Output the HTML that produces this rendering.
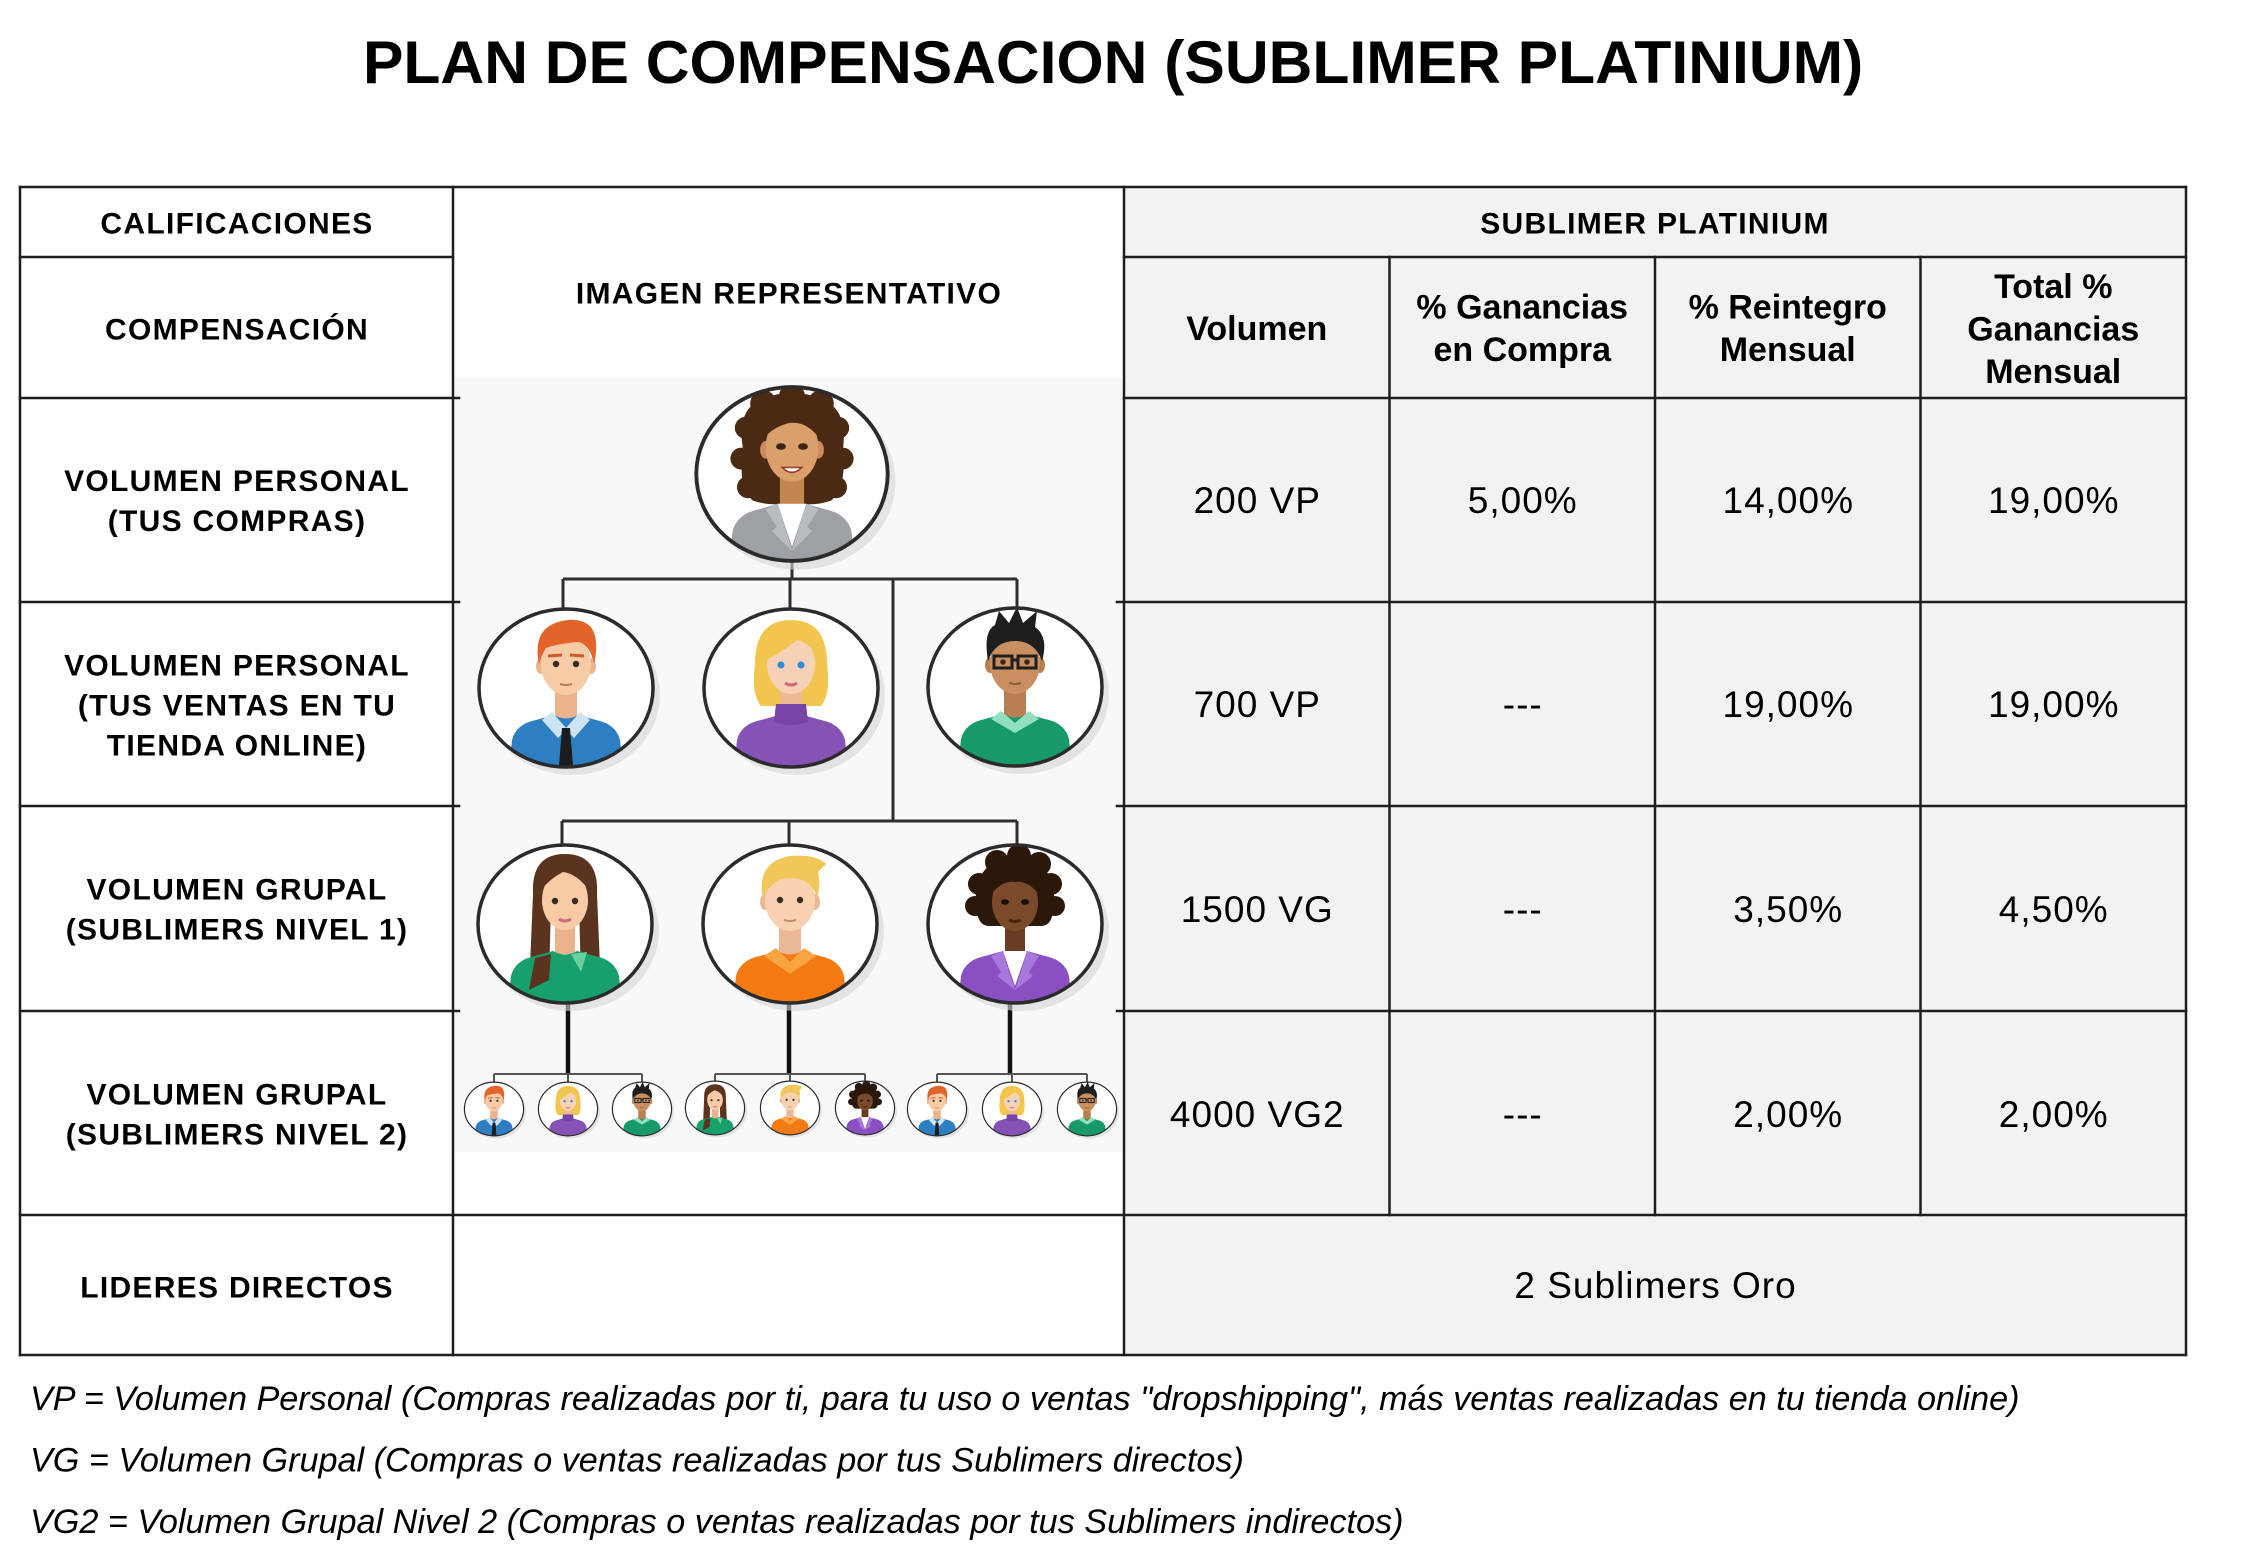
<!DOCTYPE html>
<html>
<head>
<meta charset="utf-8">
<style>
html,body{margin:0;padding:0;background:#fff;}
svg{display:block;}
.t{font-family:"Liberation Sans",Arial,sans-serif;}
.lb{font-weight:bold;font-size:30px;letter-spacing:1.3px;fill:#000;}
.hb{font-weight:bold;font-size:34px;fill:#000;}
.dv{font-size:37px;letter-spacing:1px;fill:#000;}
.ft{font-style:italic;font-size:34.2px;fill:#000;}
</style>
</head>
<body>
<svg width="2245" height="1551" viewBox="0 0 2245 1551" xmlns="http://www.w3.org/2000/svg">
<defs>
  <clipPath id="cp"><ellipse cx="0" cy="0" rx="86" ry="78"/></clipPath>

  <g id="w1">
    <ellipse cx="6" cy="7" rx="88" ry="80" fill="#d6d6d6" opacity=".6"/>
    <ellipse rx="87" ry="79" fill="#fff"/>
    <g clip-path="url(#cp)">
      <g fill="#4b2a14">
        <path d="M-44 -20 Q-52 -60 -26 -68 Q0 -80 26 -68 Q52 -60 46 -20 Q50 10 36 24 Q20 30 0 26 Q-20 30 -36 24 Q-50 10 -44 -20 Z"/>
        <circle cx="-42" cy="-42" r="10"/><circle cx="-46" cy="-14" r="10"/><circle cx="-40" cy="12" r="10"/>
        <circle cx="42" cy="-42" r="10"/><circle cx="46" cy="-14" r="10"/><circle cx="40" cy="12" r="10"/>
        <circle cx="-26" cy="-64" r="12"/><circle cx="0" cy="-70" r="12"/><circle cx="26" cy="-64" r="12"/>
      </g>
      <rect x="-11" y="-4" width="22" height="36" fill="#c4864f"/>
      <path d="M-58 90 L-54 52 Q-50 36 -30 32 L-12 27 Q0 34 12 27 L30 32 Q50 36 54 52 L58 90 Z" fill="#9da0a5"/>
      <path d="M-13 27 L0 66 L13 27 Z" fill="#fff"/>
      <path d="M-13 27 L-24 32 L-14 48 L-18 52 L0 70 L-6 50 Z" fill="#b9bcc0"/>
      <path d="M13 27 L24 32 L14 48 L18 52 L0 70 L6 50 Z" fill="#b9bcc0"/>
      <ellipse cx="-24" cy="-22" rx="5" ry="8" fill="#c98b5a"/>
      <ellipse cx="24" cy="-22" rx="5" ry="8" fill="#c98b5a"/>
      <ellipse cx="0" cy="-24" rx="24" ry="31" fill="#d9a06c"/>
      <path d="M-26 -32 Q-20 -64 0 -62 Q26 -62 28 -28 Q14 -50 -4 -46 Q-18 -42 -26 -32 Z" fill="#4b2a14"/>
      <ellipse cx="-10" cy="-25" rx="4.5" ry="3" fill="#3a2415"/>
      <ellipse cx="10" cy="-25" rx="4.5" ry="3" fill="#3a2415"/>
      <path d="M-9 -6 Q0 3 9 -6 Z" fill="#fff" stroke="#9b3b2b" stroke-width="1.5"/>
    </g>
    <ellipse rx="87" ry="79" fill="none" stroke="#2b2b2b" stroke-width="3.5"/>
  </g>

  <g id="m1">
    <ellipse cx="6" cy="7" rx="88" ry="80" fill="#d6d6d6" opacity=".6"/>
    <ellipse rx="87" ry="79" fill="#fff"/>
    <g clip-path="url(#cp)">
      <rect x="-11" y="-4" width="22" height="36" fill="#eab38c"/>
      <path d="M-58 90 L-54 52 Q-50 36 -30 32 L-12 27 Q0 34 12 27 L30 32 Q50 36 54 52 L58 90 Z" fill="#2e7ec4"/>
      <path d="M-14 24 L0 40 L14 24 L24 32 L8 50 L0 42 L-8 50 L-24 32 Z" fill="#cde4f4"/>
      <path d="M-4 40 L4 40 L8 90 L-8 90 Z" fill="#1c1c1c"/>
      <ellipse cx="-25" cy="-22" rx="5" ry="8" fill="#eab38c"/>
      <ellipse cx="25" cy="-22" rx="5" ry="8" fill="#eab38c"/>
      <ellipse cx="0" cy="-24" rx="25" ry="31" fill="#f6cba6"/>
      <path d="M-27 -24 Q-34 -58 -8 -66 Q12 -72 24 -62 Q34 -50 28 -24 Q24 -44 12 -46 Q-10 -44 -20 -40 Q-24 -34 -27 -24 Z" fill="#e2642b"/>
      <path d="M-18 -32 L-4 -33" stroke="#d05a28" stroke-width="3"/>
      <path d="M4 -33 L18 -32" stroke="#d05a28" stroke-width="3"/>
      <circle cx="-10" cy="-24" r="3.2" fill="#3a2a20"/>
      <circle cx="10" cy="-24" r="3.2" fill="#3a2a20"/>
      <path d="M-6 -4 Q0 -2 6 -4" stroke="#b77a5a" stroke-width="2" fill="none"/>
    </g>
    <ellipse rx="87" ry="79" fill="none" stroke="#2b2b2b" stroke-width="3.5"/>
  </g>

  <g id="w2">
    <ellipse cx="6" cy="7" rx="88" ry="80" fill="#d6d6d6" opacity=".6"/>
    <ellipse rx="87" ry="79" fill="#fff"/>
    <g clip-path="url(#cp)">
      <path d="M-36 -24 Q-36 -68 0 -68 Q36 -68 36 -24 Q40 6 30 18 L-30 18 Q-40 6 -36 -24 Z" fill="#f2c64e"/>
      <rect x="-11" y="-4" width="22" height="32" fill="#eeb897"/>
      <path d="M-58 90 L-54 52 Q-50 36 -30 32 L-12 27 Q0 34 12 27 L30 32 Q50 36 54 52 L58 90 Z" fill="#8752b6"/>
      <path d="M-15 16 L15 16 L17 34 Q0 40 -17 34 Z" fill="#7745a6"/>
      <ellipse cx="0" cy="-24" rx="24" ry="30" fill="#f7d1b5"/>
      <path d="M-29 -26 Q-26 -62 4 -62 Q32 -60 30 -28 Q18 -46 6 -48 Q-8 -36 -29 -26 Z" fill="#f2c64e"/>
      <circle cx="-10" cy="-23" r="3.5" fill="#2a8fd6"/>
      <circle cx="10" cy="-23" r="3.5" fill="#2a8fd6"/>
      <path d="M-6 -5 Q0 -1 6 -5" stroke="#d06a7a" stroke-width="3" fill="none"/>
    </g>
    <ellipse rx="87" ry="79" fill="none" stroke="#2b2b2b" stroke-width="3.5"/>
  </g>

  <g id="m2">
    <ellipse cx="6" cy="7" rx="88" ry="80" fill="#d6d6d6" opacity=".6"/>
    <ellipse rx="87" ry="79" fill="#fff"/>
    <g clip-path="url(#cp)">
      <rect x="-11" y="-4" width="22" height="36" fill="#b77f52"/>
      <path d="M-58 90 L-54 52 Q-50 36 -30 32 L-12 27 Q0 34 12 27 L30 32 Q50 36 54 52 L58 90 Z" fill="#18996a"/>
      <path d="M-14 24 L0 36 L14 24 L24 32 L0 46 L-24 32 Z" fill="#90e0bf"/>
      <ellipse cx="-25" cy="-22" rx="5" ry="8" fill="#b77f52"/>
      <ellipse cx="25" cy="-22" rx="5" ry="8" fill="#b77f52"/>
      <ellipse cx="0" cy="-24" rx="25" ry="31" fill="#c98f60"/>
      <path d="M-27 -26 Q-32 -56 -20 -62 L-16 -76 L-6 -64 L2 -80 L8 -64 L22 -76 L20 -60 Q34 -50 27 -26 Q20 -46 0 -46 Q-20 -46 -27 -26 Z" fill="#1e1e1e"/>
      <rect x="-21" y="-31" width="18" height="12" fill="none" stroke="#1e1e1e" stroke-width="3"/>
      <rect x="3" y="-31" width="18" height="12" fill="none" stroke="#1e1e1e" stroke-width="3"/>
      <path d="M-3 -27 L3 -27" stroke="#1e1e1e" stroke-width="3"/>
      <circle cx="-12" cy="-25" r="2.8" fill="#3a2a20"/>
      <circle cx="12" cy="-25" r="2.8" fill="#3a2a20"/>
      <path d="M-6 -4 Q0 -2 6 -4" stroke="#8a5a3a" stroke-width="2" fill="none"/>
    </g>
    <ellipse rx="87" ry="79" fill="none" stroke="#2b2b2b" stroke-width="3.5"/>
  </g>

  <g id="w3">
    <ellipse cx="6" cy="7" rx="88" ry="80" fill="#d6d6d6" opacity=".6"/>
    <ellipse rx="87" ry="79" fill="#fff"/>
    <g clip-path="url(#cp)">
      <path d="M-32 -30 Q-34 -70 0 -70 Q34 -70 32 -30 L36 66 L16 56 L14 -20 L-14 -20 L-16 56 L-36 66 Z" fill="#5a341f"/>
      <rect x="-10" y="-4" width="20" height="34" fill="#eab38c"/>
      <path d="M-58 90 L-54 52 Q-50 36 -30 32 L-12 27 Q0 34 12 27 L30 32 Q50 36 54 52 L58 90 Z" fill="#17a06b"/>
      <path d="M6 30 L22 28 L16 48 Z" fill="#6ccf9f"/>
      <path d="M-36 66 L-16 56 L-14 30 L-30 34 Z" fill="#5a341f"/>
      <ellipse cx="0" cy="-24" rx="23" ry="30" fill="#f6cba6"/>
      <path d="M-28 -28 Q-26 -64 0 -64 Q28 -64 28 -28 Q14 -50 -2 -52 Q-18 -44 -28 -28 Z" fill="#5a341f"/>
      <circle cx="-10" cy="-23" r="3.2" fill="#3a2a20"/>
      <circle cx="10" cy="-23" r="3.2" fill="#3a2a20"/>
      <path d="M-6 -5 Q0 -1 6 -5" stroke="#d06a7a" stroke-width="3" fill="none"/>
    </g>
    <ellipse rx="87" ry="79" fill="none" stroke="#2b2b2b" stroke-width="3.5"/>
  </g>

  <g id="m3">
    <ellipse cx="6" cy="7" rx="88" ry="80" fill="#d6d6d6" opacity=".6"/>
    <ellipse rx="87" ry="79" fill="#fff"/>
    <g clip-path="url(#cp)">
      <rect x="-11" y="-4" width="22" height="36" fill="#eab897"/>
      <path d="M-58 90 L-54 52 Q-50 36 -30 32 L-12 27 Q0 34 12 27 L30 32 Q50 36 54 52 L58 90 Z" fill="#f47a14"/>
      <path d="M-14 24 L0 38 L14 24 L26 32 L0 50 L-26 32 Z" fill="#f8a441"/>
      <ellipse cx="-25" cy="-22" rx="5" ry="8" fill="#eab897"/>
      <ellipse cx="25" cy="-22" rx="5" ry="8" fill="#eab897"/>
      <ellipse cx="0" cy="-24" rx="25" ry="31" fill="#f7d1b0"/>
      <path d="M-27 -26 Q-34 -62 0 -68 Q26 -70 36 -60 L28 -52 Q31 -40 27 -26 Q22 -46 0 -46 Q-18 -46 -27 -26 Z" fill="#f2c75a"/>
      <circle cx="-10" cy="-24" r="3.2" fill="#3a2a20"/>
      <circle cx="10" cy="-24" r="3.2" fill="#3a2a20"/>
      <path d="M-6 -4 Q0 -2 6 -4" stroke="#c08a6a" stroke-width="2" fill="none"/>
    </g>
    <ellipse rx="87" ry="79" fill="none" stroke="#2b2b2b" stroke-width="3.5"/>
  </g>

  <g id="w4">
    <ellipse cx="6" cy="7" rx="88" ry="80" fill="#d6d6d6" opacity=".6"/>
    <ellipse rx="87" ry="79" fill="#fff"/>
    <g clip-path="url(#cp)">
      <g fill="#2c180b">
        <path d="M-38 -12 Q-46 -62 0 -68 Q46 -62 38 -12 Q36 2 26 2 L-26 2 Q-36 2 -38 -12 Z"/>
        <circle cx="-36" cy="-40" r="11"/><circle cx="-40" cy="-18" r="10"/>
        <circle cx="36" cy="-40" r="11"/><circle cx="40" cy="-18" r="10"/>
        <circle cx="-18" cy="-62" r="12"/><circle cx="4" cy="-68" r="12"/><circle cx="24" cy="-60" r="12"/>
      </g>
      <rect x="-10" y="-4" width="20" height="36" fill="#6a3d22"/>
      <path d="M-58 90 L-54 52 Q-50 36 -30 32 L-12 27 Q0 34 12 27 L30 32 Q50 36 54 52 L58 90 Z" fill="#8a4fc0"/>
      <path d="M-12 27 L0 62 L12 27 Z" fill="#fff"/>
      <path d="M-12 27 L-24 32 L-14 48 L-18 52 L0 66 L-6 48 Z" fill="#a978dc"/>
      <path d="M12 27 L24 32 L14 48 L18 52 L0 66 L6 48 Z" fill="#a978dc"/>
      <ellipse cx="0" cy="-22" rx="23" ry="29" fill="#7a4a2b"/>
      <path d="M-24 -30 Q-18 -54 0 -52 Q20 -54 24 -30 Q12 -44 0 -42 Q-12 -44 -24 -30 Z" fill="#2c180b"/>
      <ellipse cx="-10" cy="-22" rx="4" ry="2.8" fill="#1a0f08"/>
      <ellipse cx="10" cy="-22" rx="4" ry="2.8" fill="#1a0f08"/>
      <path d="M-6 -4 Q0 -1 6 -4" stroke="#4a2414" stroke-width="3" fill="none"/>
    </g>
    <ellipse rx="87" ry="79" fill="none" stroke="#2b2b2b" stroke-width="3.5"/>
  </g>
</defs>

<rect x="0" y="0" width="2245" height="1551" fill="#fff"/>

<text class="t" x="363" y="83" font-size="60.6" font-weight="bold" fill="#000">PLAN DE COMPENSACION (SUBLIMER PLATINIUM)</text>

<rect x="1124" y="187" width="1062" height="1168" fill="#f2f2f2"/>

<rect x="455" y="378" width="667" height="774" fill="#f8f8f8"/>

<g stroke="#2e2e2e" stroke-width="3" fill="none">
  <path d="M792 560 L792 579"/>
  <path d="M563 579 L1017 579"/>
  <path d="M563 579 L563 610"/>
  <path d="M790 579 L790 610"/>
  <path d="M1017 579 L1017 610"/>
  <path d="M893 579 L893 821"/>
  <path d="M562 821 L1017 821"/>
  <path d="M562 821 L562 847"/>
  <path d="M789 821 L789 847"/>
  <path d="M1017 821 L1017 847"/>
</g>
<g stroke="#111" stroke-width="4.5" fill="none">
  <path d="M568 1000 L568 1074"/>
  <path d="M789 1000 L789 1074"/>
  <path d="M1010 1000 L1010 1074"/>
</g>
<g stroke="#555" stroke-width="2" fill="none">
  <path d="M494 1074 L642 1074 M494 1074 L494 1084 M568 1074 L568 1084 M642 1074 L642 1084"/>
  <path d="M715 1074 L865 1074 M715 1074 L715 1084 M790 1074 L790 1084 M865 1074 L865 1084"/>
  <path d="M937 1074 L1087 1074 M937 1074 L937 1084 M1012 1074 L1012 1084 M1087 1074 L1087 1084"/>
</g>

<use href="#w1" transform="translate(792,474) scale(1.1)"/>
<use href="#m1" transform="translate(566,688)"/>
<use href="#w2" transform="translate(791,688)"/>
<use href="#m2" transform="translate(1015,687)"/>
<use href="#w3" transform="translate(565,924)"/>
<use href="#m3" transform="translate(790,924)"/>
<use href="#w4" transform="translate(1015,924)"/>

<use href="#m1" transform="translate(494,1109) scale(0.34)"/>
<use href="#w2" transform="translate(568,1109) scale(0.34)"/>
<use href="#m2" transform="translate(642,1109) scale(0.34)"/>
<use href="#w3" transform="translate(715,1108) scale(0.34)"/>
<use href="#m3" transform="translate(790,1108) scale(0.34)"/>
<use href="#w4" transform="translate(865,1108) scale(0.34)"/>
<use href="#m1" transform="translate(937,1109) scale(0.34)"/>
<use href="#w2" transform="translate(1012,1109) scale(0.34)"/>
<use href="#m2" transform="translate(1087,1109) scale(0.34)"/>

<g stroke="#1e1e1e" stroke-width="2.5" fill="none" stroke-linecap="square">
  <path d="M20 187 L2186 187"/>
  <path d="M20 257 L453 257 M1124 257 L2186 257"/>
  <path d="M20 398 L459 398 M1124 398 L2186 398"/>
  <path d="M20 602 L459 602 M1117 602 L2186 602"/>
  <path d="M20 806 L459 806 M1117 806 L2186 806"/>
  <path d="M20 1011 L459 1011 M1117 1011 L2186 1011"/>
  <path d="M20 1215 L2186 1215"/>
  <path d="M20 1355 L2186 1355"/>
  <path d="M20 187 L20 1355"/>
  <path d="M453 187 L453 1355"/>
  <path d="M1124 187 L1124 1355"/>
  <path d="M2186 187 L2186 1355"/>
  <path d="M1389.5 257 L1389.5 1215"/>
  <path d="M1655 257 L1655 1215"/>
  <path d="M1920.5 257 L1920.5 1215"/>
</g>

<g class="t lb" text-anchor="middle">
  <text x="237" y="233.5">CALIFICACIONES</text>
  <text x="237" y="339.5">COMPENSACIÓN</text>
  <text x="237" y="491">VOLUMEN PERSONAL</text>
  <text x="237" y="531">(TUS COMPRAS)</text>
  <text x="237" y="675.5">VOLUMEN PERSONAL</text>
  <text x="237" y="715.5">(TUS VENTAS EN TU</text>
  <text x="237" y="755.5">TIENDA ONLINE)</text>
  <text x="237" y="899.5">VOLUMEN GRUPAL</text>
  <text x="237" y="939.5">(SUBLIMERS NIVEL 1)</text>
  <text x="237" y="1104.5">VOLUMEN GRUPAL</text>
  <text x="237" y="1144.5">(SUBLIMERS NIVEL 2)</text>
  <text x="237" y="1297.5">LIDERES DIRECTOS</text>
  <text x="789" y="303.5">IMAGEN REPRESENTATIVO</text>
  <text x="1655" y="233.5">SUBLIMER PLATINIUM</text>
</g>

<g class="t hb" text-anchor="middle">
  <text x="1256.75" y="340">Volumen</text>
  <text x="1522.25" y="318.5">% Ganancias</text>
  <text x="1522.25" y="361">en Compra</text>
  <text x="1787.75" y="318.5">% Reintegro</text>
  <text x="1787.75" y="361">Mensual</text>
  <text x="2053.25" y="298">Total %</text>
  <text x="2053.25" y="340.5">Ganancias</text>
  <text x="2053.25" y="383">Mensual</text>
</g>

<g class="t dv" text-anchor="middle">
  <text x="1257.25" y="513">200 VP</text>
  <text x="1522.75" y="513">5,00%</text>
  <text x="1788.25" y="513">14,00%</text>
  <text x="2053.75" y="513">19,00%</text>

  <text x="1257.25" y="717">700 VP</text>
  <text x="1522.75" y="717">---</text>
  <text x="1788.25" y="717">19,00%</text>
  <text x="2053.75" y="717">19,00%</text>

  <text x="1257.25" y="922">1500 VG</text>
  <text x="1522.75" y="922">---</text>
  <text x="1788.25" y="922">3,50%</text>
  <text x="2053.75" y="922">4,50%</text>

  <text x="1257.25" y="1127">4000 VG2</text>
  <text x="1522.75" y="1127">---</text>
  <text x="1788.25" y="1127">2,00%</text>
  <text x="2053.75" y="1127">2,00%</text>

  <text x="1655.5" y="1298">2 Sublimers Oro</text>
</g>

<g class="t ft">
  <text x="30" y="1410">VP = Volumen Personal (Compras realizadas por ti, para tu uso o ventas "dropshipping", más ventas realizadas en tu tienda online)</text>
  <text x="30" y="1471.5">VG = Volumen Grupal (Compras o ventas realizadas por tus Sublimers directos)</text>
  <text x="30" y="1533">VG2 = Volumen Grupal Nivel 2 (Compras o ventas realizadas por tus Sublimers indirectos)</text>
</g>
</svg>
</body>
</html>
